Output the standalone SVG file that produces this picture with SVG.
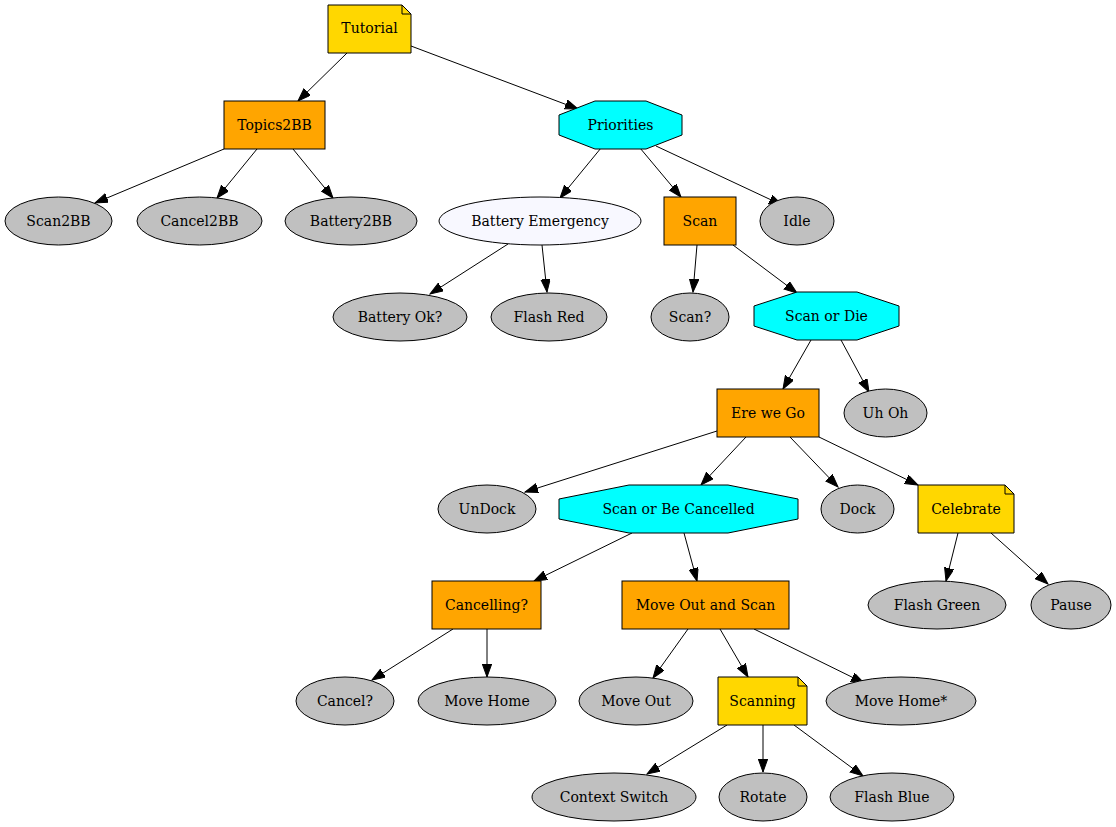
<svg xmlns="http://www.w3.org/2000/svg" width="1116" height="827" viewBox="0 0 1116 827">
<style>
text{font-family:"DejaVu Serif","Liberation Serif",serif;font-size:14px;text-anchor:middle;fill:#000}
.s{stroke:#000;stroke-width:1}
.gray{fill:#c0c0c0}
.gold{fill:#ffd700}
.orange{fill:#ffa500}
.cyan{fill:#00ffff}
.ghost{fill:#f8f8ff}
.e line{stroke:#000;stroke-width:1;marker-end:url(#ah)}
</style>
<defs>
<marker id="ah" markerUnits="userSpaceOnUse" markerWidth="14" markerHeight="10" refX="13" refY="4.7" orient="auto">
<path d="M0,0 L13,4.7 L0,9.4 Z" fill="#000" stroke="#000" stroke-width="1"/>
</marker>
</defs>
<rect width="1116" height="827" fill="#fff"/>
<g id="edges" class="e">
<line x1="347" y1="53" x2="298" y2="101"/>
<line x1="411" y1="46" x2="578" y2="109"/>
<line x1="224" y1="149" x2="95" y2="203"/>
<line x1="257" y1="149" x2="217" y2="198"/>
<line x1="293" y1="149" x2="333" y2="198"/>
<line x1="601" y1="148" x2="560" y2="198"/>
<line x1="640" y1="148" x2="681" y2="197"/>
<line x1="656" y1="146" x2="782" y2="205"/>
<line x1="508" y1="244" x2="430" y2="294"/>
<line x1="542" y1="245" x2="547" y2="292"/>
<line x1="697" y1="245" x2="693" y2="292"/>
<line x1="733" y1="245" x2="797" y2="293"/>
<line x1="811" y1="340" x2="783" y2="389"/>
<line x1="841" y1="340" x2="869" y2="392"/>
<line x1="717" y1="431" x2="525" y2="492"/>
<line x1="746" y1="437" x2="701" y2="485"/>
<line x1="790" y1="437" x2="838" y2="487"/>
<line x1="819" y1="437" x2="918" y2="485"/>
<line x1="632" y1="533" x2="534" y2="581"/>
<line x1="684" y1="533" x2="697" y2="581"/>
<line x1="958" y1="533" x2="946" y2="581"/>
<line x1="991" y1="533" x2="1048" y2="584"/>
<line x1="453" y1="629" x2="372" y2="680"/>
<line x1="487" y1="629" x2="487" y2="677"/>
<line x1="688" y1="629" x2="653" y2="678"/>
<line x1="720" y1="629" x2="748" y2="677"/>
<line x1="754" y1="629" x2="864" y2="683"/>
<line x1="727" y1="725" x2="647" y2="774"/>
<line x1="763" y1="725" x2="763" y2="772"/>
<line x1="794" y1="725" x2="863" y2="776"/>
</g>
<g id="tutorial"><path class="gold s" d="M328,5 L402,5 L411,14 L411,53 L328,53 Z"/><path class="s" fill="none" d="M402,5 L402,14 L411,14"/><text x="369.5" y="33">Tutorial</text></g>
<g id="topics2bb"><rect class="orange s" x="224" y="101" width="101" height="48"/><text x="274.5" y="130">Topics2BB</text></g>
<g id="priorities"><polygon class="cyan s" points="595,101 646,101 682,115 682,135 646,149 595,149 559,135 559,115"/><text x="620.5" y="130">Priorities</text></g>
<g id="scan2bb"><ellipse class="gray s" cx="58.5" cy="221" rx="53.5" ry="24"/><text x="58.5" y="226">Scan2BB</text></g>
<g id="cancel2bb"><ellipse class="gray s" cx="199.5" cy="221" rx="62.5" ry="24"/><text x="199.5" y="226">Cancel2BB</text></g>
<g id="battery2bb"><ellipse class="gray s" cx="351" cy="221" rx="66" ry="24"/><text x="351" y="226">Battery2BB</text></g>
<g id="battery-emergency"><ellipse class="ghost s" cx="540" cy="221" rx="101" ry="24"/><text x="540" y="226">Battery Emergency</text></g>
<g id="scan"><rect class="orange s" x="664" y="197" width="72" height="48"/><text x="700" y="226">Scan</text></g>
<g id="idle"><ellipse class="gray s" cx="797" cy="221" rx="37" ry="24"/><text x="797" y="226">Idle</text></g>
<g id="battery-ok"><ellipse class="gray s" cx="400" cy="317" rx="67" ry="24"/><text x="400" y="322">Battery Ok?</text></g>
<g id="flash-red"><ellipse class="gray s" cx="549" cy="317" rx="58" ry="24"/><text x="549" y="322">Flash Red</text></g>
<g id="scan-q"><ellipse class="gray s" cx="690" cy="317" rx="39" ry="24"/><text x="690" y="322">Scan?</text></g>
<g id="scan-or-die"><polygon class="cyan s" points="797,292 857,292 899,306 899,326 857,340 797,340 754,326 754,306"/><text x="826.5" y="321">Scan or Die</text></g>
<g id="ere-we-go"><rect class="orange s" x="717" y="389" width="102" height="48"/><text x="768" y="418">Ere we Go</text></g>
<g id="uh-oh"><ellipse class="gray s" cx="885.5" cy="413" rx="41.5" ry="24"/><text x="885.5" y="418">Uh Oh</text></g>
<g id="undock"><ellipse class="gray s" cx="487" cy="509" rx="49" ry="24"/><text x="487" y="514">UnDock</text></g>
<g id="scan-or-be-cancelled"><polygon class="cyan s" points="629,485 728,485 798,499 798,519 728,533 629,533 559,519 559,499"/><text x="678.5" y="514">Scan or Be Cancelled</text></g>
<g id="dock"><ellipse class="gray s" cx="857.5" cy="509" rx="36.5" ry="24"/><text x="857.5" y="514">Dock</text></g>
<g id="celebrate"><path class="gold s" d="M918,485 L1005,485 L1014,494 L1014,533 L918,533 Z"/><path class="s" fill="none" d="M1005,485 L1005,494 L1014,494"/><text x="966" y="514">Celebrate</text></g>
<g id="cancelling"><rect class="orange s" x="432" y="581" width="109" height="48"/><text x="486.5" y="610">Cancelling?</text></g>
<g id="move-out-and-scan"><rect class="orange s" x="622" y="581" width="167" height="48"/><text x="705.5" y="610">Move Out and Scan</text></g>
<g id="flash-green"><ellipse class="gray s" cx="937" cy="605" rx="69" ry="24"/><text x="937" y="610">Flash Green</text></g>
<g id="pause"><ellipse class="gray s" cx="1071" cy="605" rx="40" ry="24"/><text x="1071" y="610">Pause</text></g>
<g id="cancel-q"><ellipse class="gray s" cx="345" cy="701" rx="49" ry="24"/><text x="345" y="706">Cancel?</text></g>
<g id="move-home"><ellipse class="gray s" cx="487" cy="701" rx="69" ry="24"/><text x="487" y="706">Move Home</text></g>
<g id="move-out"><ellipse class="gray s" cx="636" cy="701" rx="57" ry="24"/><text x="636" y="706">Move Out</text></g>
<g id="scanning"><path class="gold s" d="M718,677 L798,677 L807,686 L807,725 L718,725 Z"/><path class="s" fill="none" d="M798,677 L798,686 L807,686"/><text x="762.5" y="706">Scanning</text></g>
<g id="move-home-star"><ellipse class="gray s" cx="901" cy="701" rx="75" ry="24"/><text x="901" y="706">Move Home*</text></g>
<g id="context-switch"><ellipse class="gray s" cx="614" cy="797" rx="82" ry="24"/><text x="614" y="802">Context Switch</text></g>
<g id="rotate"><ellipse class="gray s" cx="763" cy="797" rx="44" ry="24"/><text x="763" y="802">Rotate</text></g>
<g id="flash-blue"><ellipse class="gray s" cx="892" cy="797" rx="62" ry="24"/><text x="892" y="802">Flash Blue</text></g>
</svg>
